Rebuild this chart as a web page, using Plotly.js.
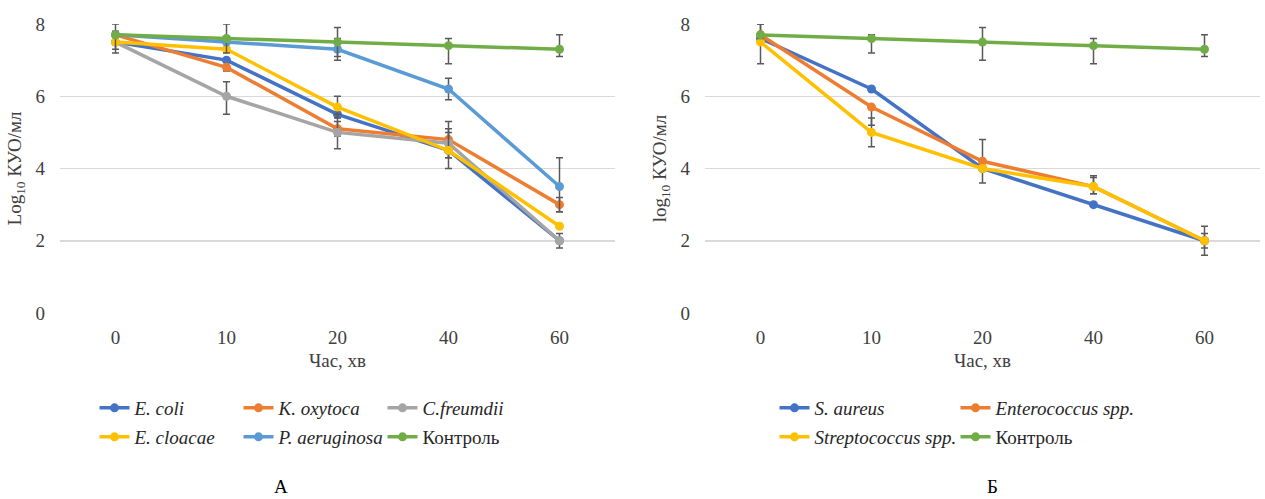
<!DOCTYPE html>
<html>
<head>
<meta charset="utf-8">
<script src="https://cdn.plot.ly/plotly-3.0.1.min.js"></script>
<style>html,body{margin:0;padding:0;background:#fff;}#chart{width:1265px;height:499px;}</style>
</head>
<body>
<div id="chart"></div>
<script>
// Categories (time, min)
const timeLabels = ['0', '10', '20', '40', '60'];

// Panel A (Gram-negative)
const ecoli = [7.5, 7.0, 5.5, 4.5, 2.0];
const koxytoca = [7.7, 6.8, 5.1, 4.8, 3.0];
const cfreundii = [7.5, 6.0, 5.0, 4.7, 2.0];
const ecloacae = [7.5, 7.3, 5.7, 4.5, 2.4];
const paeruginosa = [7.7, 7.5, 7.3, 6.2, 3.5];
const controlA = [7.7, 7.6, 7.5, 7.4, 7.3];

// Panel A error bars (plus / minus)
const ecoliErrP = [0, 0, 0, 0, 0];
const ecoliErrM = [0, 0, 0, 0, 0];
const koxytocaErrP = [0, 0, 0.2, 0.5, 0.2];
const koxytocaErrM = [0, 0.1, 0.2, 0.5, 0.2];
const cfreundiiErrP = [0.3, 0.4, 0.5, 0.4, 0.2];
const cfreundiiErrM = [0.3, 0.5, 0.45, 0.4, 0.2];
const ecloacaeErrP = [0, 0, 0.3, 0.5, 0];
const ecloacaeErrM = [0, 0, 0.3, 0.5, 0];
const paeruginosaErrP = [0, 0, 0.3, 0.3, 0.8];
const paeruginosaErrM = [0, 0, 0.3, 0.3, 0.7];
const controlAErrP = [0.3, 0.4, 0.4, 0.2, 0.4];
const controlAErrM = [0.4, 0.4, 0.4, 0.5, 0.2];

// Panel B (Gram-positive)
const saureus = [7.6, 6.2, 4.0, 3.0, 2.0];
const enterococcus = [7.7, 5.7, 4.2, 3.5, 2.0];
const streptococcus = [7.5, 5.0, 4.0, 3.5, 2.0];
const controlB = [7.7, 7.6, 7.5, 7.4, 7.3];

const saureusErrP = [0, 0, 0, 0, 0];
const saureusErrM = [0, 0, 0, 0, 0];
const enterococcusErrP = [0, 0, 0.6, 0.3, 0.4];
const enterococcusErrM = [0, 0.5, 0.6, 0.2, 0.4];
const streptococcusErrP = [0.5, 0.4, 0, 0.25, 0.2];
const streptococcusErrM = [0.6, 0.4, 0, 0.2, 0.2];
const controlBErrP = [0.3, 0.1, 0.4, 0.2, 0.4];
const controlBErrM = [0.1, 0.4, 0.5, 0.5, 0.2];

const C = {blue:'#4472C4', orange:'#ED7D31', grey:'#A5A5A5', yellow:'#FFC000', lblue:'#5B9BD5', green:'#70AD47'};
const FONT = 'Times New Roman, Liberation Serif, serif';
const FS = 19;

function tr(name, y, ep, em, color, xa, ya, legend) {
  return {
    type: 'scatter', mode: 'lines+markers', name: name,
    x: timeLabels, y: y, xaxis: xa, yaxis: ya, legend: legend,
    line: {color: color, width: 3.5},
    marker: {color: color, size: 9, symbol: 'circle'},
    error_y: {type: 'data', symmetric: false, array: ep, arrayminus: em,
              color: '#595959', thickness: 1.5, width: 3.5, visible: true},
    hoverinfo: 'x+y+name'
  };
}

const data = [
  tr('<i>E. coli</i>', ecoli, ecoliErrP, ecoliErrM, C.blue, 'x', 'y', 'legend'),
  tr('<i>K. oxytoca</i>', koxytoca, koxytocaErrP, koxytocaErrM, C.orange, 'x', 'y', 'legend'),
  tr('<i>C.freumdii</i>', cfreundii, cfreundiiErrP, cfreundiiErrM, C.grey, 'x', 'y', 'legend'),
  tr('<i>E. cloacae</i>', ecloacae, ecloacaeErrP, ecloacaeErrM, C.yellow, 'x', 'y', 'legend2'),
  tr('<i>P. aeruginosa</i>', paeruginosa, paeruginosaErrP, paeruginosaErrM, C.lblue, 'x', 'y', 'legend2'),
  tr('Контроль', controlA, controlAErrP, controlAErrM, C.green, 'x', 'y', 'legend2'),
  tr('<i>S. aureus</i>', saureus, saureusErrP, saureusErrM, C.blue, 'x2', 'y2', 'legend3'),
  tr('<i>Enterococcus spp.</i>', enterococcus, enterococcusErrP, enterococcusErrM, C.orange, 'x2', 'y2', 'legend3'),
  tr('<i>Streptococcus spp.</i>', streptococcus, streptococcusErrP, streptococcusErrM, C.yellow, 'x2', 'y2', 'legend4'),
  tr('Контроль', controlB, controlBErrP, controlBErrM, C.green, 'x2', 'y2', 'legend4')
];

const W = 1265, H = 499;
const yDom = [(H - 313) / H, (H - 24) / H];

function xax(dom, anchor) {
  return {
    domain: dom, anchor: anchor, type: 'category', range: [-0.5, 4.5],
    showgrid: false, zeroline: false, showline: false, ticks: '',
    tickfont: {family: FONT, size: FS, color: '#404040'},
    ticklabelstandoff: 11,
    title: {text: 'Час, хв', font: {family: FONT, size: FS, color: '#404040'}, standoff: 6}
  };
}
function yax(anchor, text) {
  return {
    domain: yDom, anchor: anchor, range: [0, 8], dtick: 2,
    showgrid: true, gridcolor: '#D9D9D9', gridwidth: 1.5,
    zeroline: false, showline: false, ticks: '',
    tickfont: {family: FONT, size: FS, color: '#404040'},
    ticklabelstandoff: 14,
    title: {text: text, font: {family: FONT, size: FS, color: '#404040'}, standoff: 8}
  };
}

const legendCommon = {
  orientation: 'h', xanchor: 'left', yanchor: 'top',
  font: {family: FONT, size: FS, color: '#262626'},
  bgcolor: 'rgba(0,0,0,0)', itemwidth: 30, traceorder: 'normal'
};
function lg(px, py, ew) {
  return Object.assign({}, legendCommon, {x: px / W, y: (H - py) / H, entrywidth: ew});
}

const layout = {
  width: W, height: H,
  margin: {l: 0, r: 0, t: 0, b: 0, autoexpand: false},
  paper_bgcolor: '#fff', plot_bgcolor: '#fff',
  showlegend: true,
  xaxis: xax([60 / W, 615 / W], 'y'),
  yaxis: yax('x', 'Log<sub>10</sub> КУО/мл'),
  xaxis2: xax([705 / W, 1260 / W], 'y2'),
  yaxis2: yax('x2', 'log<sub>10</sub> КУО/мл'),
  legend: lg(94.5, 389, 99),
  legend2: lg(94.5, 418, 99),
  legend3: lg(774.5, 389, 136),
  legend4: lg(774.5, 418, 136),
  annotations: [
    {text: 'А', xref: 'paper', yref: 'paper', x: 281 / W, y: 0, showarrow: false,
     font: {family: FONT, size: 19, color: '#000'}, xanchor: 'center', yanchor: 'bottom'},
    {text: 'Б', xref: 'paper', yref: 'paper', x: 992 / W, y: 0, showarrow: false,
     font: {family: FONT, size: 19, color: '#000'}, xanchor: 'center', yanchor: 'bottom'}
  ]
};

Plotly.newPlot('chart', data, layout, {displayModeBar: false, staticPlot: true});
</script>
</body>
</html>
